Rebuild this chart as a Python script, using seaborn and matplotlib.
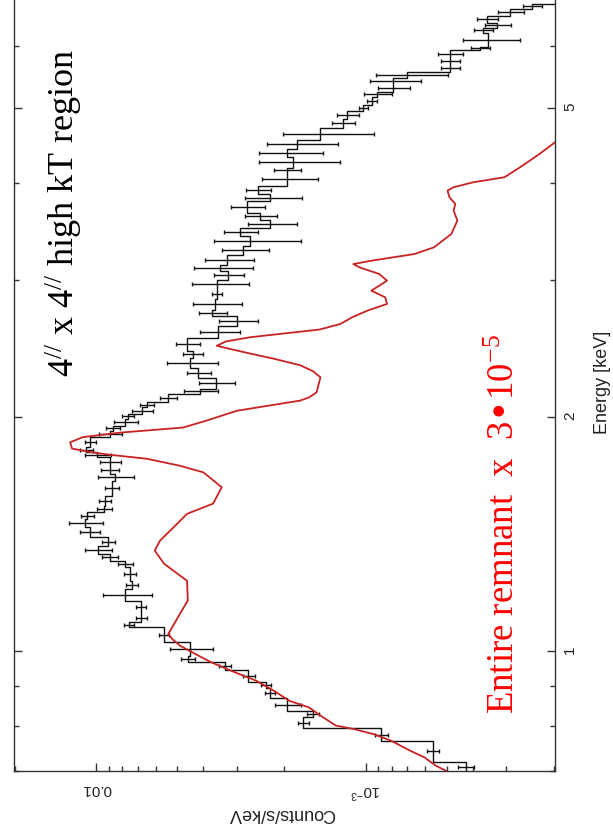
import numpy as np
import matplotlib
matplotlib.use("Agg")
import matplotlib.pyplot as plt
import seaborn as sns
from matplotlib.ticker import FixedLocator, FixedFormatter, NullFormatter

# --- data read off the (rotated) spectrum ---------------------------------
# black: 4" x 4" high kT region, binned spectrum (bin edges in keV)
black_edges = [0.699, 0.720, 0.766, 0.794, 0.821, 0.837, 0.868, 0.895, 0.910, 0.943,
               0.966, 0.985, 1.025, 1.072, 1.088, 1.115, 1.160, 1.201, 1.230, 1.280,
               1.306, 1.332, 1.365, 1.399, 1.441, 1.477, 1.506, 1.537, 1.583, 1.655,
               1.688, 1.730, 1.773, 1.800, 1.826, 1.885, 1.919, 1.948, 1.987, 2.017,
               2.056, 2.087, 2.140, 2.172, 2.246, 2.313, 2.383, 2.433, 2.528, 2.620,
               2.699, 2.747, 2.838, 2.923, 3.002, 3.084, 3.139, 3.233, 3.321, 3.421,
               3.503, 3.587, 3.662, 3.785, 3.875, 3.968, 4.124, 4.186, 4.324, 4.428,
               4.548, 4.712, 4.840, 4.956, 5.045, 5.164, 5.241, 5.351, 5.464, 5.562,
               5.678, 5.797, 5.937, 5.990, 6.243, 6.336, 6.431, 6.566, 6.703, 6.804,
               7.50]
black_counts = [4.24e-4, 5.63e-4, 8.75e-4, 1.70e-3, 1.57e-3, 1.95e-3, 2.27e-3, 2.35e-3, 2.72e-3, 3.33e-3,
                4.58e-3, 4.50e-3, 5.60e-3, 7.56e-3, 6.80e-3, 6.84e-3, 7.82e-3, 7.37e-3, 7.50e-3, 7.82e-3,
                8.90e-3, 9.86e-3, 9.05e-3, 1.055e-2, 1.10e-2, 1.083e-2, 9.36e-3, 9.28e-3, 8.74e-3, 8.52e-3,
                8.90e-3, 8.90e-3, 9.94e-3, 1.092e-2, 1.055e-2, 8.90e-3, 8.67e-3, 7.82e-3, 7.63e-3, 6.77e-3,
                6.48e-3, 5.42e-3, 4.12e-3, 3.59e-3, 4.19e-3, 4.49e-3, 4.38e-3, 4.60e-3, 3.53e-3, 3.00e-3,
                3.72e-3, 3.62e-3, 3.56e-3, 3.56e-3, 3.24e-3, 3.47e-3, 3.27e-3, 2.85e-3, 2.69e-3, 2.93e-3,
                2.26e-3, 2.47e-3, 2.76e-3, 2.26e-3, 2.51e-3, 1.96e-3, 1.96e-3, 1.86e-3, 1.96e-3, 1.80e-3,
                1.48e-3, 1.21e-3, 1.17e-3, 1.02e-3, 9.47e-4, 9.07e-4, 7.91e-4, 7.91e-4, 7.02e-4, 4.86e-4,
                4.86e-4, 4.86e-4, 3.76e-4, 3.51e-4, 3.66e-4, 3.25e-4, 3.54e-4, 2.91e-4, 2.41e-4, 1.67e-4]
black_err = [3e-5, 3e-5, 5e-5, 8e-5, 8e-5, 2.2e-4, 1e-4, 1e-4, 1.4e-4, 1.7e-4,
             2.8e-4, 8e-4, 2.5e-4, 3e-4, 3e-4, 3e-4, 1.6e-3, 4e-4, 4e-4, 5e-4,
             6e-4, 1.1e-3, 5e-4, 9e-4, 1.6e-3, 6e-4, 6e-4, 5e-4, 5e-4, 1.3e-3,
             7e-4, 8e-4, 1.1e-3, 6e-4, 5e-4, 9e-4, 5e-4, 8e-4, 4e-4, 6e-4,
             4e-4, 4e-4, 6e-4, 5.5e-4, 4.3e-4, 9.5e-4, 3.7e-4, 4.7e-4, 6e-4, 4.9e-4,
             4.5e-4, 7.5e-4, 1.5e-4, 8.5e-4, 4.2e-4, 8.5e-4, 6.7e-4, 5.7e-4, 9.5e-4, 4.2e-4,
             4.7e-4, 3.3e-4, 3.9e-4, 5.4e-4, 2.6e-4, 4.6e-4, 2.2e-4, 6.2e-4, 5.2e-4, 5.3e-4,
             5.5e-4, 1.2e-4, 1.1e-4, 4e-5, 4e-5, 1.1e-4, 1.1e-4, 1.7e-4, 2.1e-4, 4e-5,
             4e-5, 5e-5, 3e-5, 8.5e-5, 3e-5, 3.6e-5, 3.3e-5, 3.2e-5, 2e-5, 2e-5]

# red: entire remnant model (scaled by 3e-5)
red_energy = [0.699, 0.711, 0.729, 0.744, 0.766, 0.781, 0.793, 0.801, 0.825, 0.845,
              0.862, 0.888, 0.915, 0.938, 0.966, 0.990, 1.015, 1.035, 1.051, 1.072,
              1.115, 1.160, 1.230, 1.294, 1.345, 1.385, 1.457, 1.500, 1.546, 1.623,
              1.696, 1.730, 1.766, 1.787, 1.800, 1.820, 1.854, 1.883, 1.908, 1.937,
              1.977, 2.036, 2.098, 2.118, 2.150, 2.248, 2.290, 2.330, 2.376, 2.420,
              2.468, 2.500, 2.531, 2.560, 2.590, 2.633, 2.686, 2.739, 2.794, 2.849,
              2.906, 2.993, 3.053, 3.113, 3.144, 3.176, 3.239, 3.304, 3.438, 3.577,
              3.684, 3.757, 3.832, 3.909, 3.948, 4.006, 4.067, 4.188, 4.357, 4.510,
              4.700]
red_counts = [4.96e-4, 5.48e-4, 6.05e-4, 6.86e-4, 8.05e-4, 9.36e-4, 1.11e-3, 1.29e-3, 1.47e-3, 1.62e-3,
              1.92e-3, 2.19e-3, 2.55e-3, 3.06e-3, 3.74e-3, 4.28e-3, 4.89e-3, 5.22e-3, 5.40e-3, 5.22e-3,
              4.89e-3, 4.57e-3, 4.60e-3, 5.60e-3, 6.06e-3, 5.80e-3, 5.00e-3, 4.60e-3, 3.68e-3, 3.42e-3,
              4.00e-3, 4.90e-3, 6.50e-3, 8.90e-3, 1.04e-2, 1.23e-2, 1.25e-2, 1.12e-2, 8.16e-3, 4.76e-3,
              3.90e-3, 3.00e-3, 1.75e-3, 1.62e-3, 1.52e-3, 1.47e-3, 1.57e-3, 1.75e-3, 2.20e-3, 2.80e-3,
              3.57e-3, 3.30e-3, 2.69e-3, 2.00e-3, 1.48e-3, 1.24e-3, 1.12e-3, 9.84e-4, 8.32e-4, 8.45e-4,
              9.51e-4, 8.32e-4, 8.89e-4, 1.05e-3, 1.11e-3, 9.51e-4, 6.59e-4, 5.57e-4, 4.80e-4, 4.56e-4,
              4.71e-4, 4.64e-4, 4.88e-4, 4.96e-4, 4.71e-4, 3.99e-4, 3.05e-4, 2.67e-4, 2.26e-4, 1.98e-4,
              1.70e-4]

count_ticks = [1e-2, 1e-3]
count_labels = ["0.01", r"$\mathregular{10^{-3}}$"]
energy_ticks = [1, 2, 5]
energy_labels = ["1", "2", "5"]
energy_minor = [0.7, 0.8, 0.9, 3, 4, 6, 7]

# --- style ----------------------------------------------------------------
sns.set_theme(style="ticks")
plt.rcParams["font.family"] = ["Liberation Sans", "DejaVu Sans"]

fig = plt.figure(figsize=(6.13, 8.32), dpi=100)
# plot is shown rotated: counts run horizontally (decreasing to the right),
# energy runs up the page; the top of the frame is cut off by the figure edge
ax = fig.add_axes([0.0228, 0.0733, 0.8825, 0.9619])
ax.set_xscale("log")
ax.set_yscale("log")

# black data: step histogram + count error bars
bx = np.append(black_counts, black_counts[-1])
sns.lineplot(x=bx, y=black_edges, sort=False, estimator=None, drawstyle="steps-pre",
             color="#111111", linewidth=1.0, ax=ax)
edges = np.array(black_edges)
mids = np.sqrt(edges[:-1] * edges[1:])
ax.errorbar(black_counts, mids, xerr=black_err, fmt="none", ecolor="#111111",
            elinewidth=1.0, capsize=1.5, capthick=1.0)

# red model on top
sns.lineplot(x=red_counts, y=red_energy, sort=False, estimator=None,
             color="#c82323", linewidth=1.3, ax=ax)

ax.set_xlim(0.0202, 1.98e-4)
ax.set_ylim(0.7, 7.5)

# axes / ticks
for s in ax.spines.values():
    s.set_color("#333333")
    s.set_linewidth(1.0)

ax.xaxis.set_major_locator(FixedLocator(count_ticks))
ax.xaxis.set_major_formatter(FixedFormatter(count_labels))
ax.xaxis.set_minor_locator(FixedLocator(
    [m * 10.0 ** e for e in (-4, -3, -2) for m in range(2, 10)]))
ax.xaxis.set_minor_formatter(NullFormatter())

ax.yaxis.tick_right()
ax.yaxis.set_major_locator(FixedLocator(energy_ticks))
ax.yaxis.set_major_formatter(FixedFormatter(energy_labels))
ax.yaxis.set_minor_locator(FixedLocator(energy_minor))
ax.yaxis.set_minor_formatter(NullFormatter())

ax.tick_params(axis="both", which="both", direction="in", color="#333333",
               labelcolor="#222222", labelsize=11)
ax.tick_params(axis="both", which="major", length=5.5, width=1.0)
ax.tick_params(axis="both", which="minor", length=3.5, width=1.0)
ax.tick_params(axis="x", which="both", bottom=True, top=True, labelrotation=180, pad=8)
ax.tick_params(axis="y", which="both", left=True, right=True, labelleft=False,
               labelright=True, labelrotation=90, pad=6)

ax.set_xlabel("Counts/s/keV", fontsize=13, rotation=180, color="#222222")
ax.xaxis.set_label_coords(0.495, -0.0525)
ax.xaxis.label.set_va("center")
ax.yaxis.set_label_position("right")
ax.set_ylabel("Energy [keV]", fontsize=13, rotation=90, color="#222222")
ax.yaxis.set_label_coords(1.087, 0.486)
ax.yaxis.label.set_va("center")

# annotations
fig.text(0.1044, 0.744, r"4$\mathregular{^{//}}$ x 4$\mathregular{^{//}}$ high kT region",
         rotation=90, ha="center", va="center", fontsize=26,
         family=["Liberation Serif", "DejaVu Serif"], color="black")
fig.text(0.8235, 0.3705, r"Entire remnant  x  3•10$\mathregular{^{-5}}$",
         rotation=90, ha="center", va="center", fontsize=26.5,
         family=["Liberation Serif", "DejaVu Serif"], color="red")

fig.savefig("out.png", dpi=100)
